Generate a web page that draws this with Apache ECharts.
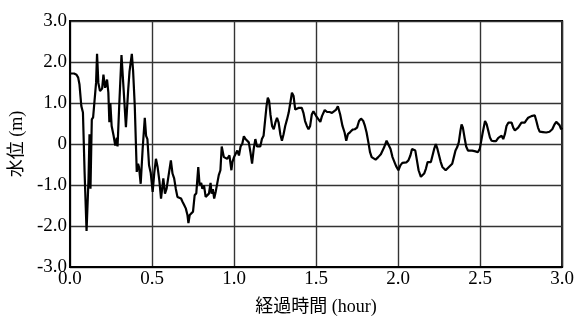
<!DOCTYPE html>
<html>
<head>
<meta charset="utf-8">
<script src="https://cdn.jsdelivr.net/npm/echarts@6/dist/echarts.min.js"></script>
<style>html,body{margin:0;padding:0;background:#fff;}#c{width:577px;height:321px;}</style>
</head>
<body>
<div id="c"></div>
<script>
const timeHours = [0.000,0.025,0.040,0.050,0.058,0.069,0.079,0.089,0.101,0.113,0.119,0.125,0.133,0.141,0.149,0.159,0.165,0.173,0.183,0.196,0.204,0.214,0.226,0.234,0.240,0.246,0.254,0.266,0.276,0.286,0.290,0.300,0.314,0.327,0.341,0.355,0.363,0.371,0.377,0.385,0.395,0.407,0.415,0.421,0.431,0.443,0.456,0.464,0.472,0.482,0.492,0.504,0.514,0.524,0.534,0.545,0.555,0.569,0.579,0.589,0.599,0.615,0.625,0.635,0.645,0.655,0.667,0.677,0.686,0.696,0.706,0.716,0.722,0.730,0.740,0.750,0.760,0.770,0.782,0.790,0.800,0.807,0.817,0.827,0.837,0.847,0.857,0.863,0.871,0.879,0.889,0.897,0.907,0.917,0.925,0.938,0.948,0.958,0.972,0.984,0.990,1.000,1.010,1.020,1.030,1.040,1.050,1.060,1.070,1.080,1.090,1.100,1.110,1.120,1.130,1.140,1.150,1.160,1.170,1.180,1.190,1.198,1.206,1.214,1.222,1.232,1.242,1.252,1.262,1.272,1.282,1.292,1.302,1.312,1.323,1.333,1.343,1.353,1.363,1.373,1.383,1.393,1.403,1.413,1.423,1.433,1.444,1.454,1.464,1.474,1.484,1.494,1.504,1.513,1.526,1.536,1.553,1.567,1.582,1.597,1.607,1.621,1.633,1.647,1.661,1.674,1.684,1.694,1.708,1.722,1.736,1.750,1.762,1.774,1.788,1.798,1.808,1.819,1.829,1.839,1.851,1.863,1.879,1.895,1.905,1.915,1.930,1.940,1.954,1.966,1.978,1.988,2.002,2.014,2.026,2.038,2.050,2.063,2.075,2.085,2.095,2.105,2.115,2.125,2.139,2.149,2.159,2.170,2.180,2.190,2.200,2.210,2.220,2.230,2.240,2.250,2.260,2.270,2.280,2.290,2.300,2.310,2.320,2.330,2.340,2.350,2.360,2.370,2.380,2.387,2.395,2.405,2.415,2.426,2.438,2.452,2.462,2.472,2.486,2.498,2.508,2.516,2.530,2.540,2.550,2.560,2.570,2.584,2.597,2.611,2.620,2.631,2.641,2.651,2.661,2.672,2.682,2.692,2.702,2.712,2.722,2.732,2.742,2.752,2.762,2.772,2.782,2.793,2.803,2.813,2.823,2.833,2.843,2.853,2.863,2.883,2.903,2.923,2.940,2.954,2.964,2.974,2.984,2.994,3.000];
const waterLevel = [1.72,1.72,1.69,1.62,1.45,0.93,0.77,-0.68,-2.12,-0.85,0.24,-1.09,0.60,0.65,0.68,1.49,2.20,1.49,1.29,1.35,1.69,1.37,1.57,1.25,0.53,1.00,0.44,0.20,-0.04,0.15,-0.06,0.92,2.17,1.33,0.41,1.33,1.77,1.80,2.20,1.77,0.92,-0.68,-0.48,-0.57,-0.97,-0.12,0.64,0.20,0.12,-0.52,-0.70,-1.17,-0.70,-0.36,-0.56,-0.90,-1.33,-0.84,-1.21,-1.09,-1.13,-0.40,-0.72,-0.84,-1.09,-1.29,-1.29,-1.33,-1.41,-1.49,-1.57,-1.73,-1.93,-1.73,-1.77,-1.65,-1.25,-1.20,-0.56,-1.00,-0.95,-1.09,-1.01,-1.29,-1.25,-1.21,-0.95,-1.21,-1.10,-1.33,-1.15,-1.17,-0.76,-0.64,-0.06,-0.32,-0.30,-0.36,-0.28,-0.64,-0.44,-0.32,-0.24,-0.16,-0.28,-0.06,0.00,0.19,0.12,0.16,0.04,-0.20,-0.48,-0.12,0.12,-0.06,-0.10,-0.06,0.12,0.20,0.60,0.92,1.13,1.05,0.72,0.44,0.36,0.52,0.64,0.52,0.24,0.08,0.24,0.44,0.60,0.76,1.00,1.25,1.17,0.84,0.80,0.88,0.84,0.88,0.76,0.56,0.44,0.36,0.44,0.72,0.80,0.76,0.66,0.62,0.54,0.68,0.83,0.78,0.78,0.76,0.72,0.83,0.92,0.72,0.44,0.28,0.08,0.24,0.29,0.35,0.36,0.40,0.56,0.62,0.56,0.44,0.28,0.04,-0.20,-0.32,-0.36,-0.38,-0.32,-0.25,-0.22,-0.08,0.08,0.04,-0.12,-0.32,-0.44,-0.54,-0.64,-0.52,-0.46,-0.44,-0.45,-0.40,-0.28,-0.12,-0.08,-0.16,-0.40,-0.64,-0.80,-0.80,-0.72,-0.60,-0.44,-0.42,-0.44,-0.28,-0.12,0.00,-0.12,-0.28,-0.44,-0.56,-0.60,-0.64,-0.60,-0.56,-0.52,-0.48,-0.32,-0.16,-0.08,0.04,0.32,0.48,0.40,0.16,-0.06,-0.16,-0.14,-0.16,-0.14,-0.18,-0.20,-0.12,0.10,0.28,0.56,0.48,0.32,0.16,0.08,0.07,0.07,0.15,0.14,0.20,0.12,0.24,0.44,0.52,0.56,0.52,0.40,0.33,0.36,0.40,0.44,0.52,0.56,0.52,0.58,0.64,0.67,0.68,0.72,0.70,0.56,0.40,0.30,0.29,0.28,0.30,0.36,0.48,0.54,0.53,0.46,0.36,0.40];
const xTicks = [0, 0.5, 1.0, 1.5, 2.0, 2.5, 3.0];
const yTicks = [-3, -2, -1, 0, 1, 2, 3];
const xName = '経過時間 (hour)';
const yName = '水位 (m)';

const FONT = '"Liberation Serif", "Noto Sans CJK JP", serif';
const chart = echarts.init(document.getElementById('c'), null, {renderer: 'canvas'});
chart.setOption({
  animation: false,
  backgroundColor: '#fff',
  grid: {left: 68, right: 13, top: 21, bottom: 52, show: true, borderColor: '#000', borderWidth: 2, backgroundColor: 'transparent'},
  xAxis: {
    type: 'value', min: xTicks[0], max: xTicks[xTicks.length - 1], interval: 0.5,
    name: xName, nameLocation: 'middle', nameGap: 31,
    nameTextStyle: {fontFamily: FONT, fontSize: 18, color: '#000'},
    axisLine: {show: true, onZero: false, lineStyle: {color: '#000', width: 2}},
    axisTick: {show: false},
    axisLabel: {fontFamily: FONT, fontSize: 19, color: '#000', margin: 3, formatter: v => v.toFixed(1)},
    splitLine: {show: true, lineStyle: {color: '#333', width: 1.4}}
  },
  yAxis: {
    type: 'value', min: yTicks[0], max: yTicks[yTicks.length - 1], interval: 1,
    name: yName, nameLocation: 'middle', nameGap: 43, nameRotate: 90,
    nameTextStyle: {fontFamily: FONT, fontSize: 18, color: '#000'},
    axisLine: {show: true, onZero: false, lineStyle: {color: '#000', width: 2}},
    axisTick: {show: false},
    axisLabel: {fontFamily: FONT, fontSize: 19, color: '#000', margin: 3, formatter: v => v === 0 ? '0' : v.toFixed(1)},
    splitLine: {show: true, lineStyle: {color: '#333', width: 1.4}}
  },
  series: [{
    type: 'line',
    data: timeHours.map((t, i) => [t, waterLevel[i]]),
    showSymbol: false,
    lineStyle: {color: '#000', width: 2.2},
    z: 5
  }]
});
</script>
</body>
</html>
